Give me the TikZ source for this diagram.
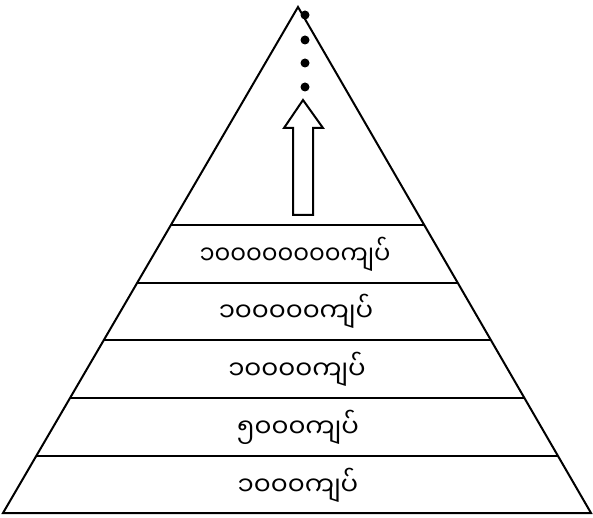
\documentclass[tikz,border=0pt]{standalone}
\usepackage{fontspec}
\usetikzlibrary{calc}
\newfontfamily\mmfont[Script=Myanmar]{Noto Sans Myanmar UI}
\begin{document}
\begin{tikzpicture}[x=1pt,y=-1pt,
  edge/.style={draw=black,line width=2pt,line join=miter},
  band/.style={font=\mmfont\fontsize{26}{30}\selectfont,inner sep=0pt,anchor=center},
  dotmark/.style={circle,fill=black,inner sep=0pt,minimum size=9pt}]
\useasboundingbox (0,0) rectangle (593,518);
% triangle
\coordinate (apex) at (298,7);
\coordinate (bl) at (3,513);
\coordinate (br) at (591,513);
\draw[edge] (bl) -- (apex) -- (br) -- cycle;
% horizontal dividers
\foreach \yy/\nm in {225/a,283/b,340/c,398/d,456/e}{
  \coordinate (L\nm) at ($(apex)!{(\yy-7)/506}!(bl)$);
  \coordinate (R\nm) at ($(apex)!{(\yy-7)/506}!(br)$);
  \draw[edge] (L\nm) -- (R\nm);
}
% labels
\node[band,xscale=0.93] (t1) at (295,254) {၁၀၀၀၀၀၀၀၀ကျပ်};
\node[band] (t2) at (296,311) {၁၀၀၀၀၀ကျပ်};
\node[band] (t3) at (297,369) {၁၀၀၀၀ကျပ်};
\node[band] (t4) at (298,427) {၅၀၀၀ကျပ်};
\node[band] (t5) at (298,485) {၁၀၀၀ကျပ်};
% arrow
\draw[line width=2pt,fill=white,line join=miter]
  (293,215) -- (293,128) -- (284,128) -- (303,100) -- (323,128) -- (313,128) -- (313,215) -- cycle;
% dots
\node[dotmark] (d1) at (305,15) {};
\node[dotmark] (d2) at (305,40) {};
\node[dotmark] (d3) at (305,63) {};
\node[dotmark] (d4) at (305,87) {};
\end{tikzpicture}
\end{document}
